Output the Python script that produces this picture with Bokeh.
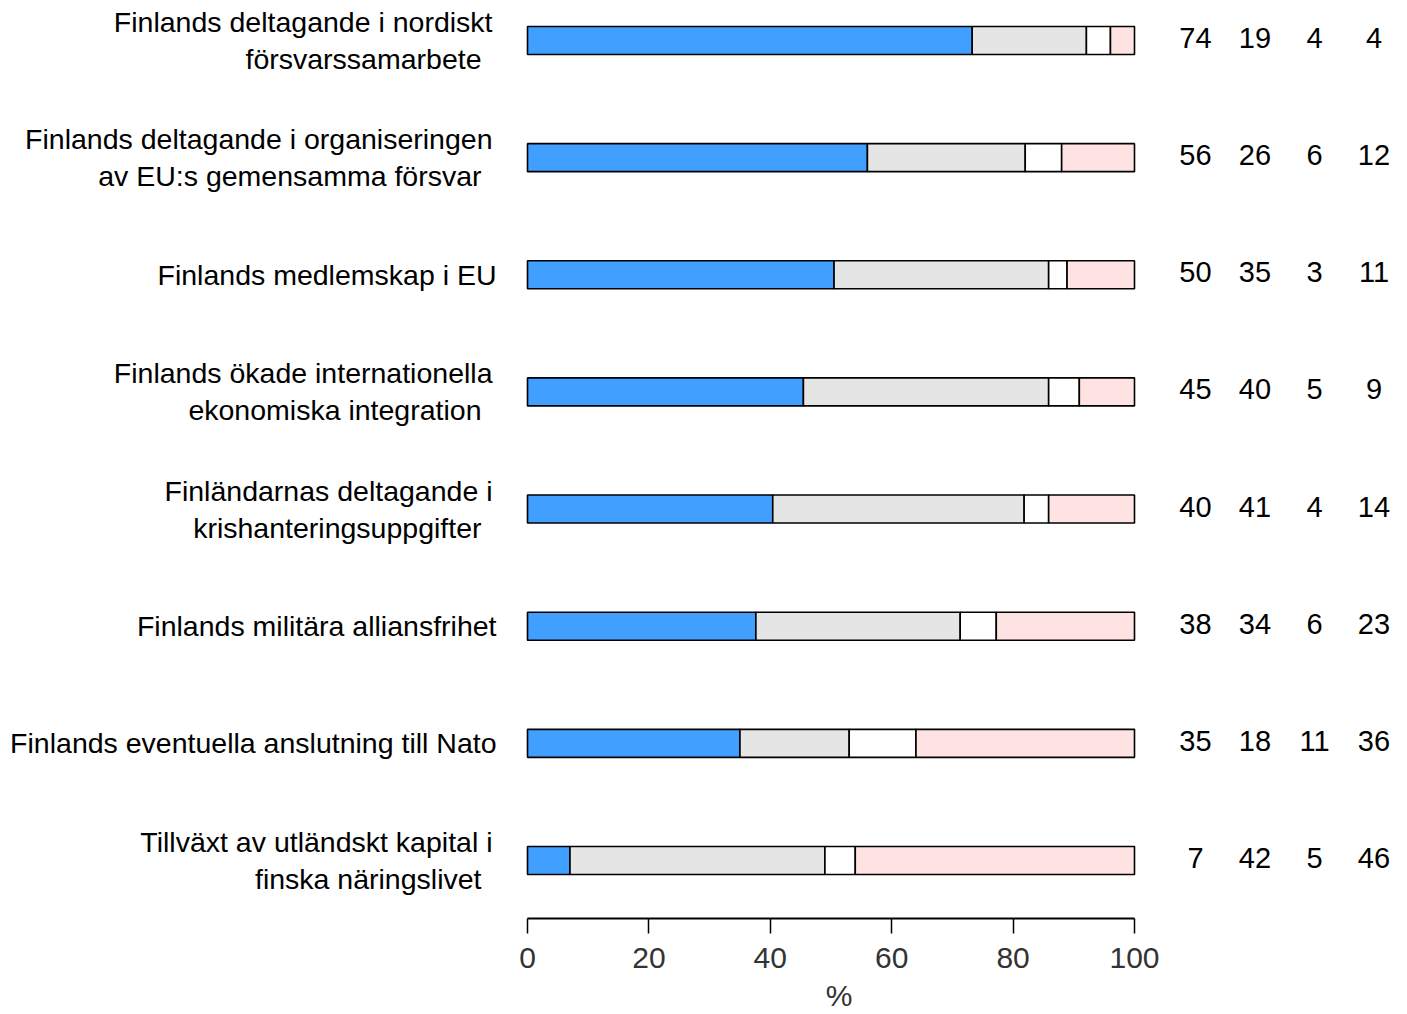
import numpy as np
from bokeh.plotting import figure
from bokeh.models import ColumnDataSource, LinearAxis, FixedTicker, Range1d, Label
from bokeh.core.properties import value
from bokeh.embed import file_html
from bokeh.resources import INLINE

# ---------------- data ----------------
labels = [
    "Finlands deltagande i nordiskt\nförsvarssamarbete",
    "Finlands deltagande i organiseringen\nav EU:s gemensamma försvar",
    "Finlands medlemskap i EU",
    "Finlands ökade internationella\nekonomiska integration",
    "Finländarnas deltagande i\nkrishanteringsuppgifter",
    "Finlands militära alliansfrihet",
    "Finlands eventuella anslutning till Nato",
    "Tillväxt av utländskt kapital i\nfinska näringslivet",
]
s1 = [74, 56, 50, 45, 40, 38, 35, 7]
s2 = [19, 26, 35, 40, 41, 34, 18, 42]
s3 = [4, 6, 3, 5, 4, 6, 11, 5]
s4 = [4, 12, 11, 9, 14, 23, 36, 46]
ticks = [0, 20, 40, 60, 80, 100]
axis_title = "%"

colors = ["#419FFF", "#E5E5E5", "#FFFFFF", "#FFE2E2"]
FONT = "Liberation Sans"

# ---------------- geometry (pixels) ----------------
W, H = 1405, 1013
x0_px = 527.0            # pixel of value 0
px_per = 607.0 / 100.0   # pixels per percent unit
row0_px = 40.0           # center of first bar
row_step = 117.14        # pixels between bars
axis_px = 918.0          # pixel row of the x axis line
title_px = 995.0         # pixel row of the axis title centre
bar_px = 28.0

def px_to_y(py):
    return (py - row0_px) / row_step

x_start = -x0_px / px_per
x_end = (W - x0_px) / px_per

p = figure(width=W, height=H, output_backend="svg", toolbar_location=None,
           x_range=Range1d(x_start, x_end), y_range=Range1d(px_to_y(H), px_to_y(0)),
           x_axis_location=None, y_axis_location=None,
           min_border_left=0, min_border_right=0, min_border_top=0,
           min_border_bottom=0)
p.grid.visible = False
p.outline_line_color = None
p.background_fill_color = "white"
p.border_fill_color = "white"

# ---------------- bars ----------------
n = len(labels)
ys = np.arange(n)
vals = np.array([s1, s2, s3, s4], dtype=float)
tot = vals.sum(axis=0)
norm = vals / tot * 100.0
cum = np.vstack([np.zeros(n), np.cumsum(norm, axis=0)])
for k in range(4):
    src = ColumnDataSource(dict(y=ys, left=cum[k], right=cum[k + 1]))
    p.hbar(y="y", left="left", right="right", height=bar_px / row_step,
           source=src, fill_color=colors[k], line_color="black", line_width=1.6)

# ---------------- category labels ----------------
lx, ly, ltxt, lxo, lyo = [], [], [], [], []
for i, lab in enumerate(labels):
    lines = lab.split("\n")
    if len(lines) == 1:
        lx.append(0); ly.append(i); ltxt.append(lines[0]); lxo.append(-31); lyo.append(0)
    else:
        for j, ln in enumerate(lines):
            lx.append(0); ly.append(i); ltxt.append(ln)
            lxo.append(-35 if j == 0 else -46)
            lyo.append(-18.5 if j == 0 else 18.5)
p.text(x="x", y="y", text="t", x_offset="xo", y_offset="yo",
       source=ColumnDataSource(dict(x=lx, y=ly, t=ltxt, xo=lxo, yo=lyo)),
       text_align="right", text_baseline="alphabetic",
       text_font=value(FONT), text_font_size="28.5px", text_color="black")

# ---------------- value columns ----------------
nx, ny, nt, nxo = [], [], [], []
for k, ser in enumerate([s1, s2, s3, s4]):
    for i, v in enumerate(ser):
        nx.append(100); ny.append(i); nt.append(str(v)); nxo.append(61 + 59.5 * k)
p.text(x="x", y="y", text="t", x_offset="xo", y_offset=-2.5,
       source=ColumnDataSource(dict(x=nx, y=ny, t=nt, xo=nxo)),
       text_align="center", text_baseline="alphabetic",
       text_font=value(FONT), text_font_size="29px", text_color="black")

# ---------------- axis ----------------
ax = LinearAxis(bounds=(0, 100), ticker=FixedTicker(ticks=ticks),
                fixed_location=px_to_y(axis_px))
ax.axis_line_width = 2
ax.axis_line_color = "black"
ax.major_tick_line_width = 1.5
ax.major_tick_line_color = "black"
ax.major_tick_out = 15
ax.major_tick_in = 0
ax.minor_tick_line_color = None
ax.major_label_standoff = 14
ax.major_label_text_font = FONT
ax.major_label_text_font_size = "30px"
ax.major_label_text_color = "#333333"
p.add_layout(ax, "below")

# axis title under the axis
p.add_layout(Label(x=(ticks[0] + ticks[-1]) / 2, y=px_to_y(title_px), text=axis_title,
                   x_offset=8, text_align="center", text_baseline="middle",
                   text_font=FONT, text_font_size="30px", text_color="#333333"))

open("out.html", "w").write(file_html(p, INLINE))
